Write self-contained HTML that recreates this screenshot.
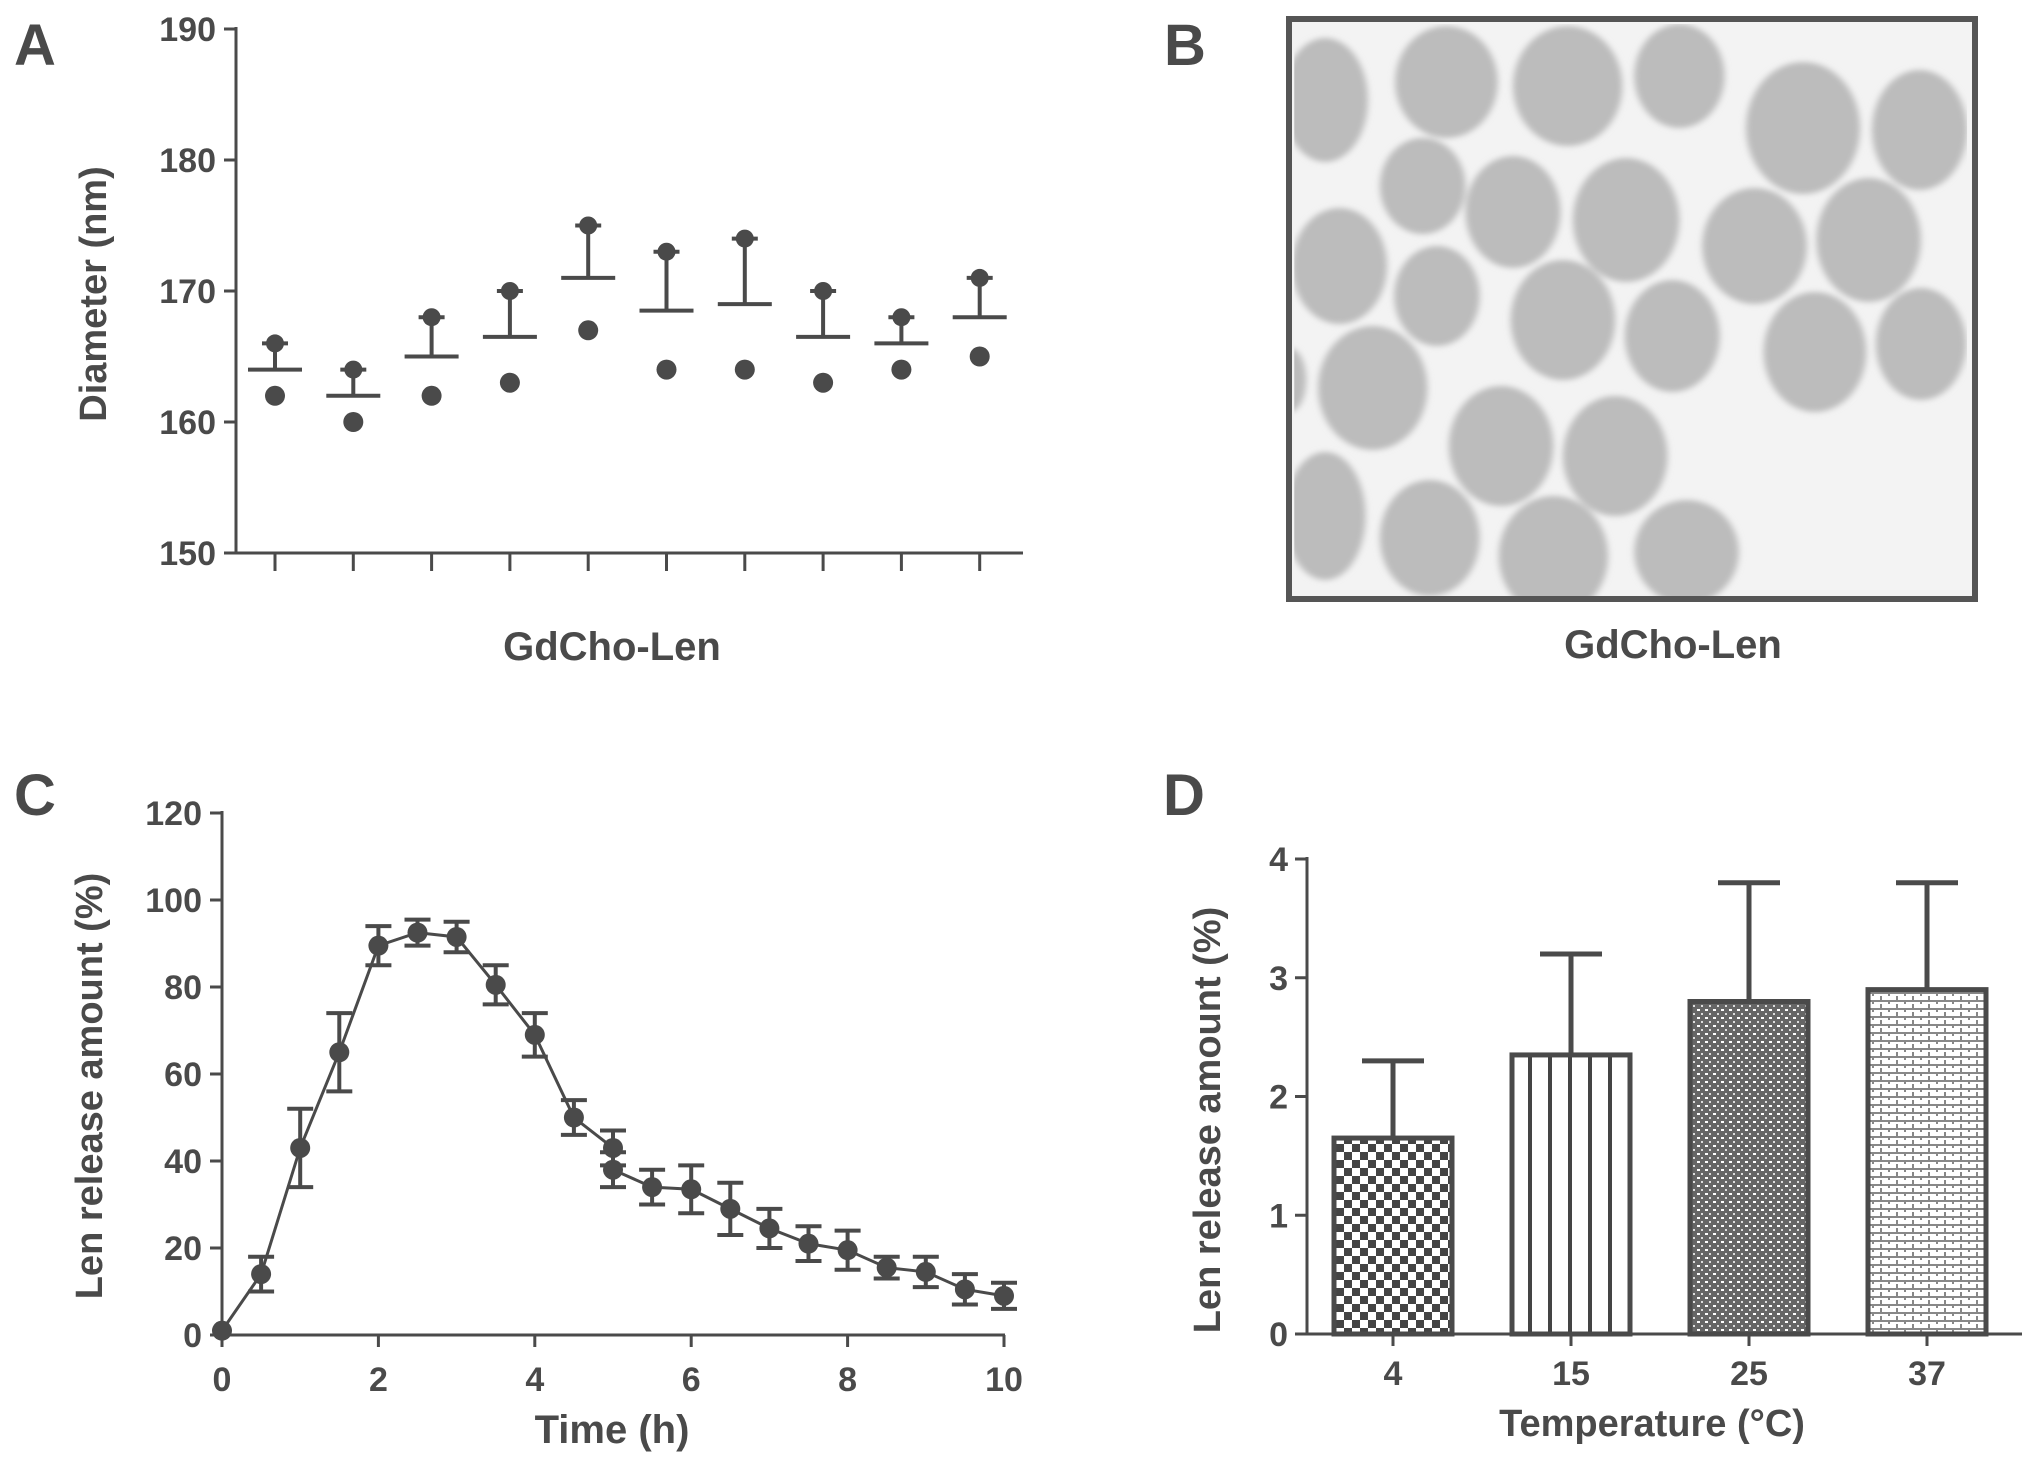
<!DOCTYPE html>
<html><head><meta charset="utf-8"><style>
html,body{margin:0;padding:0;background:#fff;}
svg{display:block;font-family:"Liberation Sans",sans-serif;}
.t{fill:#4a4a4a;font-weight:bold;}
</style></head><body>
<svg id="fig" width="2031" height="1465" viewBox="0 0 2031 1465" xmlns="http://www.w3.org/2000/svg">
<defs>
<pattern id="pCheck" width="16" height="16" patternUnits="userSpaceOnUse"><rect width="16" height="16" fill="#fff"/><rect width="8" height="8" fill="#444"/><rect x="8" y="8" width="8" height="8" fill="#444"/></pattern>
<pattern id="pVert" width="20" height="10" patternUnits="userSpaceOnUse"><rect width="20" height="10" fill="#fff"/><rect x="8" width="4" height="10" fill="#444"/></pattern>
<pattern id="pDense" width="8" height="8" patternUnits="userSpaceOnUse"><rect width="8" height="8" fill="#666"/><rect x="1" y="1" width="3" height="2" fill="#fff"/><rect x="5" y="5" width="2" height="2" fill="#ddd"/></pattern>
<pattern id="pBrick" width="16" height="8" patternUnits="userSpaceOnUse"><rect width="16" height="8" fill="#fff"/><rect y="0" width="16" height="2" fill="#888"/><rect x="0" y="0" width="2" height="4" fill="#888"/><rect x="8" y="4" width="2" height="4" fill="#888"/></pattern>
<filter id="soft" x="-20%" y="-20%" width="140%" height="140%"><feGaussianBlur stdDeviation="7"/></filter>
</defs>

<g>
<rect x="1289" y="18" width="686" height="584" fill="#f3f3f3"/>
<svg x="1280" y="0" width="737" height="620" viewBox="0 0 1550 1550" preserveAspectRatio="none" id="bimg">
<clipPath id="bclip"><rect x="30" y="60" width="1415" height="1440"/></clipPath>
<g id="circles" clip-path="url(#bclip)" fill="#bcbcbc" filter="url(#soft)"></g>
</svg>
<rect x="1289" y="19" width="686" height="580" fill="none" stroke="#555" stroke-width="6"/>
</g>
<text class="t" x="1164" y="65" font-size="58">B</text>
<text class="t" x="1673" y="658" font-size="40" text-anchor="middle">GdCho-Len</text>

<g id="A"></g><g id="C"></g><g id="D"></g>
</svg>
<script>
const bCircles=[[95,250,90,155],[350,205,108,140],[605,215,115,150],[840,190,95,130],[1100,320,120,165],[1345,325,100,150],[300,465,90,120],[490,530,100,140],[728,550,112,155],[998,615,110,145],[1238,600,110,155],[125,665,100,145],[330,740,90,125],[595,800,110,150],[825,840,100,140],[1125,880,108,150],[1348,860,95,140],[195,970,115,155],[20,950,35,80],[465,1115,110,150],[705,1140,110,150],[95,1290,85,160],[315,1345,105,145],[575,1390,115,150],[855,1380,110,130]];
// ---- Panel A data ----
const aMeans=[164,162,165,166.5,171,168.5,169,166.5,166,168];
const aUpper=[166,164,168,170,175,173,174,170,168,171];
const aLower=[162,160,162,163,167,164,164,163,164,165];
const aTicks=[150,160,170,180,190];
// ---- Panel C data ----
const cTimes=[0,0.5,1,1.5,2,2.5,3,3.5,4,4.5,5,5,5.5,6,6.5,7,7.5,8,8.5,9,9.5,10];
const cValues=[1,14,43,65,89.5,92.5,91.5,80.5,69,50,43,38,34,33.5,29,24.5,21,19.5,15.5,14.5,10.5,9];
const cErrors=[0,4,9,9,4.5,3,3.5,4.5,5,4,4,4,4,5.5,6,4.5,4,4.5,2.5,3.5,3.5,3];
const cYTicks=[0,20,40,60,80,100,120];
const cXTicks=[0,2,4,6,8,10];
// ---- Panel D data ----
const dCategories=['4','15','25','37'];
const dValues=[1.65,2.35,2.8,2.9];
const dUpper=[2.3,3.2,3.8,3.8];
const dYTicks=[0,1,2,3,4];
const dFills=['url(#pCheck)','url(#pVert)','url(#pDense)','url(#pBrick)'];

const NS='http://www.w3.org/2000/svg';
const C='#4a4a4a';
function mk(parent,tag,attrs,text){const e=document.createElementNS(NS,tag);for(const k in attrs)e.setAttribute(k,attrs[k]);if(text!==undefined)e.textContent=text;parent.appendChild(e);return e;}

const cg=document.getElementById('circles');
bCircles.forEach(c=>{
  const e=mk(cg,'ellipse',{cx:c[0],cy:c[1],rx:c[2],ry:c[3]});
  
  
});

(function(){
const g=document.getElementById('A');
const y=v=>553-(v-150)*(553-29)/40;
const x=i=>275+i*78.3;
let e;
e=mk(g,'text',{class:'t',x:14,y:65,'font-size':58},'A');


e=mk(g,'line',{x1:236,y1:27,x2:236,y2:554,stroke:C,'stroke-width':3});


e=mk(g,'line',{x1:235,y1:553,x2:1023,y2:553,stroke:C,'stroke-width':3});


aTicks.forEach(t=>{
  mk(g,'line',{x1:224,y1:y(t),x2:236,y2:y(t),stroke:C,'stroke-width':3});
  e=mk(g,'text',{class:'t',x:216,y:y(t)+12,'font-size':34,'text-anchor':'end'},t);
  
  
});
e=mk(g,'text',{class:'t',x:0,y:0,'font-size':38,'text-anchor':'middle',transform:'translate(106,294) rotate(-90)'},'Diameter (nm)');


e=mk(g,'text',{class:'t',x:612,y:660,'font-size':40,'text-anchor':'middle'},'GdCho-Len');


aMeans.forEach((m,i)=>{
  const cx=x(i);
  mk(g,'line',{x1:cx,y1:553,x2:cx,y2:571,stroke:C,'stroke-width':3});
  e=mk(g,'line',{x1:cx-27,y1:y(m),x2:cx+27,y2:y(m),stroke:C,'stroke-width':4});
  
  
  e=mk(g,'line',{x1:cx,y1:y(m),x2:cx,y2:y(aUpper[i]),stroke:C,'stroke-width':4});
  
  
  mk(g,'line',{x1:cx-13,y1:y(aUpper[i]),x2:cx+13,y2:y(aUpper[i]),stroke:C,'stroke-width':4});
  e=mk(g,'circle',{cx:cx,cy:y(aUpper[i]),r:9,fill:C});
  
  
  e=mk(g,'circle',{cx:cx,cy:y(aLower[i]),r:10,fill:C});
  
  
});
})();

(function(){
const g=document.getElementById('C');
const y=v=>1335-v*(1335-813)/120;
const x=t=>222+t*78.2;
let e;
e=mk(g,'text',{class:'t',x:14,y:815,'font-size':58},'C');


e=mk(g,'line',{x1:222,y1:811,x2:222,y2:1336,stroke:C,'stroke-width':3});


e=mk(g,'line',{x1:221,y1:1335,x2:1005,y2:1335,stroke:C,'stroke-width':3});


cYTicks.forEach(t=>{
  mk(g,'line',{x1:210,y1:y(t),x2:222,y2:y(t),stroke:C,'stroke-width':3});
  e=mk(g,'text',{class:'t',x:202,y:y(t)+12,'font-size':34,'text-anchor':'end'},t);
  
  
});
cXTicks.forEach(t=>{
  mk(g,'line',{x1:x(t),y1:1335,x2:x(t),y2:1347,stroke:C,'stroke-width':3});
  e=mk(g,'text',{class:'t',x:x(t),y:1391,'font-size':34,'text-anchor':'middle'},t);
  
  
});
e=mk(g,'text',{class:'t',x:0,y:0,'font-size':38,'text-anchor':'middle',transform:'translate(102,1086) rotate(-90)'},'Len release amount (%)');


e=mk(g,'text',{class:'t',x:612,y:1443,'font-size':40,'text-anchor':'middle'},'Time (h)');


const pts=cTimes.map((t,i)=>x(t)+','+y(cValues[i])).join(' ');
e=mk(g,'polyline',{points:pts,fill:'none',stroke:C,'stroke-width':3});


cTimes.forEach((t,i)=>{
  const cx=x(t),v=cValues[i],er=cErrors[i];
  if(er>0){
    const gg=mk(g,'g',{stroke:C,'stroke-width':4});
    
    
    mk(gg,'line',{x1:cx,y1:y(v-er),x2:cx,y2:y(v+er)});
    mk(gg,'line',{x1:cx-13,y1:y(v-er),x2:cx+13,y2:y(v-er)});
    mk(gg,'line',{x1:cx-13,y1:y(v+er),x2:cx+13,y2:y(v+er)});
  }
  e=mk(g,'circle',{cx:cx,cy:y(v),r:10,fill:C});
  
  
});
})();

(function(){
const g=document.getElementById('D');
const y=v=>1334-v*(1334-859)/4;
const x=i=>1393+i*178;
let e;
e=mk(g,'text',{class:'t',x:1163,y:815,'font-size':58},'D');


dValues.forEach((v,i)=>{
  const cx=x(i);
  e=mk(g,'line',{x1:cx,y1:y(v),x2:cx,y2:y(dUpper[i]),stroke:C,'stroke-width':5});
  
  
  mk(g,'line',{x1:cx-31,y1:y(dUpper[i]),x2:cx+31,y2:y(dUpper[i]),stroke:C,'stroke-width':5});
  e=mk(g,'rect',{x:cx-59,y:y(v),width:118,height:y(0)-y(v),fill:dFills[i],stroke:C,'stroke-width':5});
  
  
  mk(g,'line',{x1:cx,y1:1334,x2:cx,y2:1346,stroke:C,'stroke-width':3});
  e=mk(g,'text',{class:'t',x:cx,y:1385,'font-size':34,'text-anchor':'middle'},dCategories[i]);
  
  
});
e=mk(g,'line',{x1:1307,y1:857,x2:1307,y2:1335,stroke:C,'stroke-width':3});


e=mk(g,'line',{x1:1306,y1:1334,x2:2022,y2:1334,stroke:C,'stroke-width':3});


dYTicks.forEach(t=>{
  mk(g,'line',{x1:1295,y1:y(t),x2:1307,y2:y(t),stroke:C,'stroke-width':3});
  e=mk(g,'text',{class:'t',x:1288,y:y(t)+12,'font-size':34,'text-anchor':'end'},t);
  
  
});
e=mk(g,'text',{class:'t',x:0,y:0,'font-size':38,'text-anchor':'middle',transform:'translate(1220,1120) rotate(-90)'},'Len release amount (%)');


e=mk(g,'text',{class:'t',x:1652,y:1436,'font-size':38,'text-anchor':'middle'},'Temperature (°C)');


})();
</script>
</body></html>
